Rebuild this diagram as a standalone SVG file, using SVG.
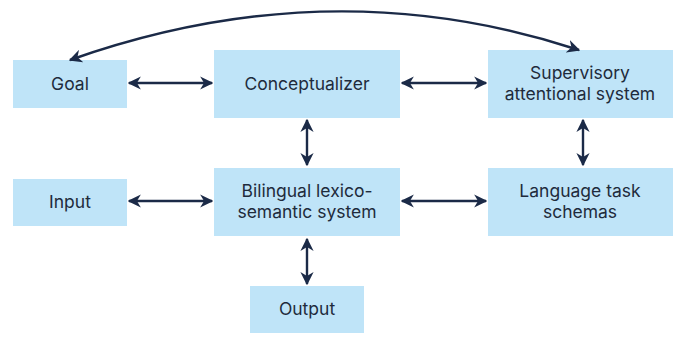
<svg xmlns="http://www.w3.org/2000/svg" width="680" height="337" viewBox="0 0 680 337">
<style>
.box{fill:#bfe4f8;}
.lbl{font-family:Inter,"Liberation Sans",sans-serif;font-size:17.5px;fill:#1e2b3c;text-anchor:middle;}
.conn{stroke:#1b2a47;stroke-width:2.4;fill:none;marker-start:url(#ah);marker-end:url(#ah);}
</style>
<defs>
<marker id="ah" viewBox="0 0 10 10" refX="9" refY="5" markerWidth="5.5" markerHeight="5.5" orient="auto-start-reverse" markerUnits="strokeWidth">
<path d="M0,0 L10,5 L0,10 L3,5 Z" fill="#1b2a47"/>
</marker>
</defs>
<rect width="680" height="337" fill="#ffffff"/>
<g id="goal"><rect class="box" x="13" y="60" width="114" height="48"/><text class="lbl" x="70" y="90">Goal</text></g>
<g id="conceptualizer"><rect class="box" x="214" y="50" width="186" height="68"/><text class="lbl" x="307" y="90">Conceptualizer</text></g>
<g id="supervisory"><rect class="box" x="488" y="50" width="185" height="68"/><text class="lbl" x="580" y="79">Supervisory</text><text class="lbl" x="580" y="100">attentional system</text></g>
<g id="input"><rect class="box" x="13" y="179" width="114" height="47"/><text class="lbl" x="70" y="208">Input</text></g>
<g id="bilingual"><rect class="box" x="214" y="168" width="186" height="68"/><text class="lbl" x="307" y="197">Bilingual lexico-</text><text class="lbl" x="307" y="218">semantic system</text></g>
<g id="language"><rect class="box" x="488" y="168" width="185" height="68"/><text class="lbl" x="580" y="197">Language task</text><text class="lbl" x="580" y="218">schemas</text></g>
<g id="output"><rect class="box" x="250" y="286" width="114" height="47"/><text class="lbl" x="307" y="315">Output</text></g>
<g id="connectors">
<path class="conn" d="M129,83 H212"/>
<path class="conn" d="M402,83 H486"/>
<path class="conn" d="M129,201 H212"/>
<path class="conn" d="M402,201 H486"/>
<path class="conn" d="M307,120 V165"/>
<path class="conn" d="M307,239 V284"/>
<path class="conn" d="M583,120 V165"/>
<path class="conn" d="M70,60 Q330,-32 579,50"/>
</g>
</svg>
